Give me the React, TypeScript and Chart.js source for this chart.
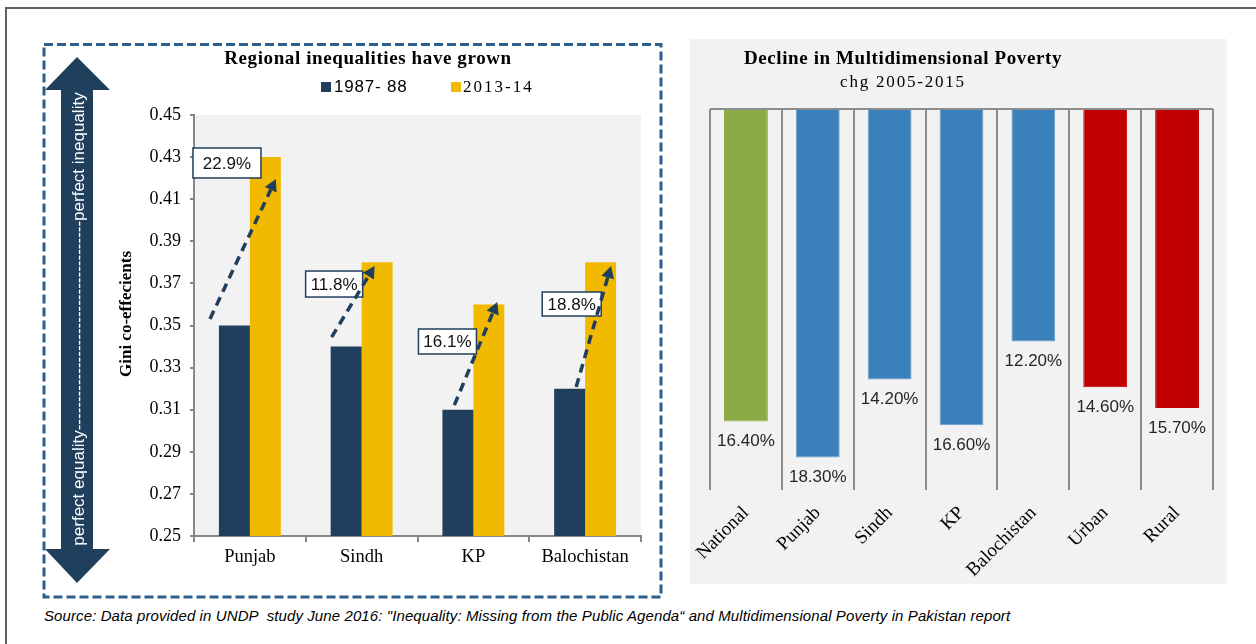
import React, { useEffect, useRef } from "react";
import { Chart, registerables } from "chart.js";

Chart.register(...registerables);

// ---------- data ----------
const regions = ["Punjab", "Sindh", "KP", "Balochistan"];
const gini1987 = [0.35, 0.34, 0.31, 0.32];
const gini2013 = [0.43, 0.38, 0.36, 0.38];
const growthLabels = ["22.9%", "11.8%", "16.1%", "18.8%"];
const giniTicks = [0.25, 0.27, 0.29, 0.31, 0.33, 0.35, 0.37, 0.39, 0.41, 0.43, 0.45];
const seriesNames = ["1987- 88", "2013-14"];

const povertyCategories = ["National", "Punjab", "Sindh", "KP", "Balochistan", "Urban", "Rural"];
const povertyDecline = [16.4, 18.3, 14.2, 16.6, 12.2, 14.6, 15.7];
const povertyGroups = ["national", "province", "province", "province", "province", "area", "area"];

// ---------- annotation placement (data units: category offset, gini value) ----------
const growthNotes = [
  { fromDx: -0.357, fromY: 0.3531, toDx: 0.232, toY: 0.4196, boxDx: -0.205, boxY: 0.4272, boxW: 68, boxH: 30 },
  { fromDx: -0.268, fromY: 0.3445, toDx: 0.116, toY: 0.3783, boxDx: -0.246, boxY: 0.3697, boxW: 57, boxH: 26 },
  { fromDx: -0.17, fromY: 0.3122, toDx: 0.214, toY: 0.3612, boxDx: -0.232, boxY: 0.3424, boxW: 58, boxH: 25 },
  { fromDx: -0.08, fromY: 0.3208, toDx: 0.232, toY: 0.3783, boxDx: -0.12, boxY: 0.3602, boxW: 59, boxH: 24 },
];

// ---------- styles ----------
const NAVY = "#1F3F5C";
const GOLD = "#F1B900";
const AXIS = "#878787";
const GRID = "#8C8C8C";
const BOX_BLUE = "#2F5F8C";
const PANEL = "#F2F2F2";
const SERIF = '"Liberation Serif", "Times New Roman", serif';
const SANS = '"Liberation Sans", Arial, sans-serif';
const groupColors: Record<string, string> = { national: "#8CAA45", province: "#3A80BA", area: "#C00000" };
const groupBorders: Record<string, string> = { national: "#8CAA45", province: "#6A9ECF", area: "#C00000" };

const ARROW_TEXT = "perfect equality-------------------------------------perfect inequality";

const leftDecor = {
  id: "leftDecor",
  beforeDraw(chart: any) {
    const { ctx, chartArea } = chart;
    ctx.save();
    ctx.fillStyle = PANEL;
    ctx.fillRect(chartArea.left, chartArea.top, chartArea.right - chartArea.left, chartArea.bottom - chartArea.top);
    ctx.restore();
  },
  afterDraw(chart: any) {
    const { ctx } = chart;
    const xs = chart.scales.x;
    const ys = chart.scales.y;
    ctx.save();

    // dashed frame
    ctx.strokeStyle = BOX_BLUE;
    ctx.lineWidth = 3;
    ctx.setLineDash([9, 4]);
    ctx.strokeRect(44, 44.5, 617, 552.5);
    ctx.setLineDash([]);

    // big double arrow
    ctx.fillStyle = NAVY;
    ctx.beginPath();
    ctx.moveTo(77, 57);
    ctx.lineTo(110, 90);
    ctx.lineTo(93, 90);
    ctx.lineTo(93, 549);
    ctx.lineTo(110, 549);
    ctx.lineTo(77, 583);
    ctx.lineTo(45, 549);
    ctx.lineTo(61, 549);
    ctx.lineTo(61, 90);
    ctx.lineTo(45, 90);
    ctx.closePath();
    ctx.fill();

    ctx.save();
    ctx.translate(79, 319);
    ctx.rotate(-Math.PI / 2);
    ctx.fillStyle = "#FFFFFF";
    ctx.font = `17px ${SANS}`;
    ctx.textAlign = "center";
    ctx.textBaseline = "middle";
    ctx.fillText(ARROW_TEXT, 0, 0);
    ctx.restore();

    // y axis title
    ctx.save();
    ctx.translate(127, 314);
    ctx.rotate(-Math.PI / 2);
    ctx.fillStyle = "#000";
    ctx.font = `bold 17px ${SERIF}`;
    ctx.textAlign = "center";
    ctx.textBaseline = "middle";
    ctx.fillText("Gini co-effecients", 0, 0);
    ctx.restore();

    // growth annotations
    const cw = xs.width / regions.length;
    growthNotes.forEach((n, i) => {
      const cx = xs.getPixelForValue(i);
      const bx = cx + n.boxDx * cw;
      const by = ys.getPixelForValue(n.boxY);
      ctx.fillStyle = "#FFFFFF";
      ctx.fillRect(bx - n.boxW / 2, by - n.boxH / 2, n.boxW, n.boxH);
      ctx.strokeStyle = NAVY;
      ctx.lineWidth = 1.5;
      ctx.strokeRect(bx - n.boxW / 2, by - n.boxH / 2, n.boxW, n.boxH);
      ctx.fillStyle = "#111";
      ctx.font = `17px ${SANS}`;
      ctx.textAlign = "center";
      ctx.textBaseline = "middle";
      ctx.fillText(growthLabels[i], bx, by + 1);

      const x0 = cx + n.fromDx * cw;
      const y0 = ys.getPixelForValue(n.fromY);
      const x1 = cx + n.toDx * cw;
      const y1 = ys.getPixelForValue(n.toY);
      const ang = Math.atan2(y1 - y0, x1 - x0);
      const head = 12;
      const hx = x1 - head * Math.cos(ang);
      const hy = y1 - head * Math.sin(ang);
      ctx.strokeStyle = NAVY;
      ctx.lineWidth = 3.5;
      ctx.setLineDash([9, 6]);
      ctx.beginPath();
      ctx.moveTo(x0, y0);
      ctx.lineTo(hx, hy);
      ctx.stroke();
      ctx.setLineDash([]);
      ctx.fillStyle = NAVY;
      ctx.beginPath();
      ctx.moveTo(x1, y1);
      ctx.lineTo(hx + 6.5 * Math.sin(ang), hy - 6.5 * Math.cos(ang));
      ctx.lineTo(hx - 6.5 * Math.sin(ang), hy + 6.5 * Math.cos(ang));
      ctx.closePath();
      ctx.fill();
    });
    ctx.restore();
  },
};

const rightLabels = {
  id: "rightLabels",
  afterDatasetsDraw(chart: any) {
    const { ctx } = chart;
    const meta = chart.getDatasetMeta(0);
    ctx.save();
    ctx.fillStyle = "#262626";
    ctx.font = `17px ${SANS}`;
    ctx.textAlign = "center";
    ctx.textBaseline = "middle";
    meta.data.forEach((bar: any, i: number) => {
      ctx.fillText(povertyDecline[i].toFixed(2) + "%", bar.x, bar.y + 20);
    });
    ctx.restore();
  },
};

export default function App() {
  const leftRef = useRef<HTMLCanvasElement>(null);
  const rightRef = useRef<HTMLCanvasElement>(null);

  useEffect(() => {
    const left = new Chart(leftRef.current as HTMLCanvasElement, {
      type: "bar",
      data: {
        labels: regions,
        datasets: [
          { label: seriesNames[0], data: gini1987, backgroundColor: NAVY, categoryPercentage: 0.554, barPercentage: 1 },
          { label: seriesNames[1], data: gini2013, backgroundColor: GOLD, categoryPercentage: 0.554, barPercentage: 1 },
        ],
      },
      options: {
        responsive: false,
        animation: false,
        layout: { padding: { left: 120, right: 29, top: 115, bottom: 29 } },
        plugins: { legend: { display: false }, tooltip: { enabled: false }, title: { display: false } },
        scales: {
          x: {
            grid: { drawOnChartArea: false, drawTicks: true, tickLength: 6, offset: true, color: AXIS, lineWidth: 2 },
            border: { display: true, color: AXIS, width: 2 },
            ticks: { color: "#000", font: { family: SERIF, size: 18.5 }, padding: 4, maxRotation: 0, autoSkip: false },
            afterFit: (s: any) => { s.height = 40; s.paddingLeft = 0; s.paddingRight = 0; },
          },
          y: {
            min: 0.25,
            max: 0.45,
            afterBuildTicks: (s: any) => { s.ticks = giniTicks.map((v) => ({ value: v })); },
            ticks: { callback: (v: any) => Number(v).toFixed(2), color: "#000", font: { family: SERIF, size: 18 }, padding: 9 },
            grid: { drawOnChartArea: false, tickLength: 4, color: AXIS, lineWidth: 2 },
            border: { color: AXIS, width: 2 },
            afterFit: (s: any) => { s.width = 74; },
          },
        },
      } as any,
      plugins: [leftDecor],
    });

    const right = new Chart(rightRef.current as HTMLCanvasElement, {
      type: "bar",
      data: {
        labels: povertyCategories,
        datasets: [
          {
            label: "Decline",
            data: povertyDecline,
            backgroundColor: povertyGroups.map((g) => groupColors[g]),
            borderColor: povertyGroups.map((g) => groupBorders[g]),
            borderWidth: 1,
            categoryPercentage: 0.61,
            barPercentage: 1,
          },
        ],
      },
      options: {
        responsive: false,
        animation: false,
        layout: { padding: { left: 20, right: 14, top: 70, bottom: 4 } },
        plugins: { legend: { display: false }, tooltip: { enabled: false }, title: { display: false } },
        scales: {
          x: {
            grid: { offset: true, color: GRID, lineWidth: 2, drawTicks: false },
            border: { display: false },
            ticks: { color: "#000", font: { family: SERIF, size: 19 }, minRotation: 45, maxRotation: 45, autoSkip: false, padding: 12 },
            afterFit: (s: any) => { s.height = 90; s.paddingLeft = 0; s.paddingRight = 0; },
          },
          y: {
            reverse: true,
            min: 0,
            max: 20,
            afterBuildTicks: (s: any) => { s.ticks = [{ value: 0 }, { value: 20 }]; },
            ticks: { display: false },
            grid: {
              color: (c: any) => (c.tick && c.tick.value === 0 ? GRID : "rgba(0,0,0,0)"),
              lineWidth: 2,
              drawTicks: false,
            },
            border: { display: false },
            afterFit: (s: any) => { s.width = 0; s.paddingTop = 0; s.paddingBottom = 0; },
          },
        },
      } as any,
      plugins: [rightLabels],
    });

    return () => {
      left.destroy();
      right.destroy();
    };
  }, []);

  const abs = (o: React.CSSProperties): React.CSSProperties => ({ position: "absolute", ...o });

  return (
    <div style={abs({ left: 0, top: 0, width: 1256, height: 644, background: "#FFFFFF", overflow: "hidden" })}>
      <div style={abs({ left: 5, top: 7, width: 1300, height: 700, borderTop: "2px solid #5F5F5F", borderLeft: "2px solid #5F5F5F" })} />
      <canvas ref={leftRef} width={670} height={605} style={abs({ left: 0, top: 0, width: 670, height: 605 })} />

      <div style={abs({ left: 118, top: 46, width: 500, textAlign: "center", font: `bold 19px ${SERIF}`, lineHeight: "24px", letterSpacing: "0.6px", color: "#000" })}>
        Regional inequalities have grown
      </div>
      <div style={abs({ left: 321, top: 82, width: 10, height: 10, background: NAVY })} />
      <div style={abs({ left: 334, top: 76, font: `17px ${SANS}`, lineHeight: "22px", letterSpacing: "0.8px", color: "#000", whiteSpace: "pre" })}>
        {seriesNames[0]}
      </div>
      <div style={abs({ left: 451, top: 82, width: 10, height: 10, background: GOLD })} />
      <div style={abs({ left: 463, top: 76, font: `17px ${SERIF}`, lineHeight: "22px", letterSpacing: "2px", color: "#000", whiteSpace: "pre" })}>
        {seriesNames[1]}
      </div>

      <div style={abs({ left: 690, top: 39, width: 537, height: 545, background: PANEL })}>
        <canvas ref={rightRef} width={537} height={545} style={{ display: "block", width: 537, height: 545 }} />
      </div>
      <div style={abs({ left: 653, top: 46, width: 500, textAlign: "center", font: `bold 19px ${SERIF}`, lineHeight: "24px", letterSpacing: "0.6px", color: "#000" })}>
        Decline in Multidimensional Poverty
      </div>
      <div style={abs({ left: 653, top: 71, width: 500, textAlign: "center", font: `17px ${SERIF}`, lineHeight: "22px", letterSpacing: "1.8px", color: "#000" })}>
        chg 2005-2015
      </div>

      <div style={abs({ left: 44, top: 607, font: `italic 15px ${SANS}`, lineHeight: "18px", letterSpacing: "0.1px", color: "#000", whiteSpace: "pre" })}>
        {"Source: Data provided in UNDP  study June 2016: \"Inequality: Missing from the Public Agenda\u201C and Multidimensional Poverty in Pakistan report"}
      </div>
    </div>
  );
}
